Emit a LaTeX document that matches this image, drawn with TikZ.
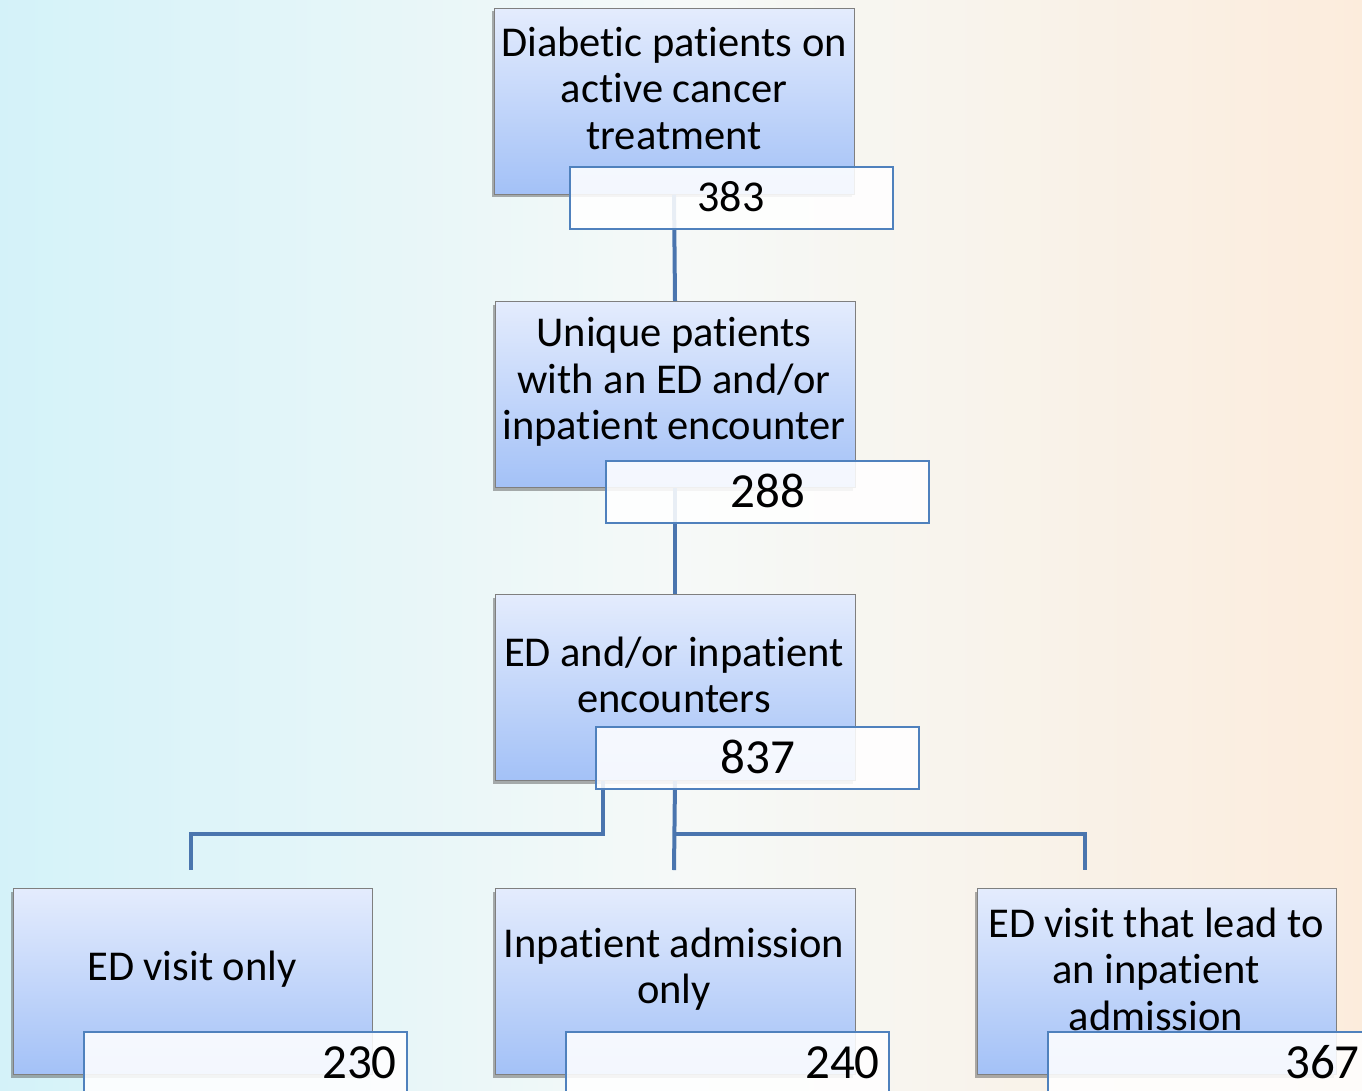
\documentclass[tikz,border=0pt]{standalone}
\usepackage{fontspec}
\setmainfont{Carlito}[Ligatures={NoCommon}]
\usetikzlibrary{shadows}
\definecolor{bgL}{HTML}{C6EEF7}
\definecolor{bgM}{HTML}{F3F8F6}
\definecolor{bgR}{HTML}{FBE6D1}
\definecolor{boxTop}{HTML}{E4ECFD}
\definecolor{boxBot}{HTML}{A3C1F7}
\definecolor{boxLine}{HTML}{7F7F7F}
\definecolor{numLine}{HTML}{4F81BD}
\definecolor{connCol}{HTML}{4A75AE}
\tikzset{
  bluebox/.style={draw=boxLine, line width=1pt, top color=boxTop, bottom color=boxBot,
    minimum width=360pt, minimum height=186pt, inner sep=0pt,
    drop shadow={shadow xshift=-2pt, shadow yshift=-3pt, opacity=0.45, fill=black!70}},
  numbox/.style={draw=numLine, line width=1.5pt, fill=white, fill opacity=0.88, text opacity=1,
    minimum width=323pt, minimum height=62pt, inner sep=0pt},
  boxtext/.style={align=center, font=\fontsize{42.5}{46.5}\selectfont, inner sep=0pt},
  numtext/.style={font=\fontsize{49}{55}\selectfont, inner sep=0pt},
  conn/.style={draw=connCol, line width=4pt}
}
\begin{document}
\begin{tikzpicture}[x=1pt, y=-1pt]
\useasboundingbox (0,0) rectangle (1362,1090);
% background
\shade[left color=bgL, right color=bgR, middle color=bgM] (0,0) rectangle (1362,1090);
\shade[top color=white, bottom color=white, middle color=white, opacity=0.25] (0,0) rectangle (1362,1090);

% blue boxes
\node[bluebox] (b1) at (674,101) {};
\node[bluebox] (b2) at (675,394.5) {};
\node[bluebox] (b3) at (675,687.5) {};
\node[bluebox, minimum width=359pt] (b4) at (192.5,981.5) {};
\node[bluebox] (b5) at (675,981.5) {};
\node[bluebox, minimum width=359pt] (b6) at (1156.5,981.5) {};

% box texts
\node[boxtext] (t1) at (674,88) {Diabetic patients on\\active cancer\\treatment};
\node[boxtext] (t2) at (674,382) {Unique patients\\with an ED and/or\\inpatient encounter};
\node[boxtext] (t3) at (674,675) {ED and/or inpatient\\encounters};
\node[boxtext] (t4) at (192,969) {ED visit only};
\node[boxtext] (t5) at (674,969) {Inpatient admission\\only};
\node[boxtext] (t6) at (1156,969) {ED visit that lead to\\an inpatient\\admission};

% connectors
\coordinate (j) at (674,834);
\coordinate (k) at (603,834);
\coordinate (c4) at (191,870);
\coordinate (c5) at (674,870);
\coordinate (c6) at (1085,870);
\draw[conn] (b1.south) -- (b2.north);
\draw[conn] (b2.south) -- (b3.north);
\draw[conn] (b3.south) -- (c5);
\draw[conn] (j) -| (c6);
\draw[conn] (k |- b3.south) -- (k) -| (c4);

% number boxes
\node[numbox] (n1) at (731.5,198) {};
\node[numbox] (n2) at (767.5,492) {};
\node[numbox] (n3) at (757.5,758) {};
\node[numbox, minimum height=80pt] (n4) at (245.5,1072) {};
\node[numbox, minimum height=80pt] (n5) at (727.5,1072) {};
\node[numbox, minimum height=80pt] (n6) at (1209.5,1072) {};

% numbers
\node[numtext, font=\fontsize{44}{50}\selectfont] (m1) at (731,197) {383};
\node[numtext] (m2) at (768,491) {288};
\node[numtext] (m3) at (758,757) {837};
\node[numtext, anchor=base east] (m4) at (397,1078) {230};
\node[numtext, anchor=base east] (m5) at (880,1078) {240};
\node[numtext, anchor=base east] (m6) at (1360,1078) {367};
\end{tikzpicture}
\end{document}
